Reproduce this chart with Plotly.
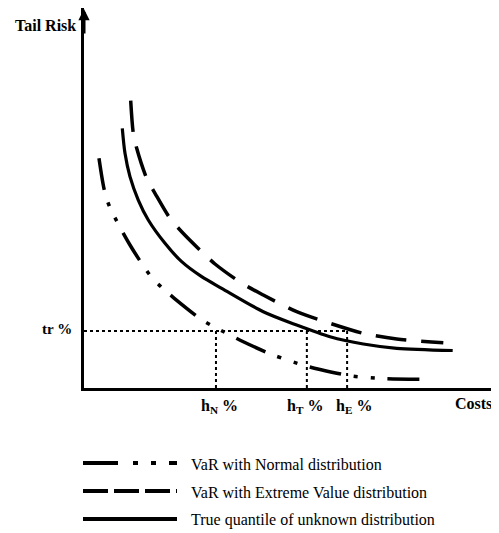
import plotly.graph_objects as go

# The page body has an 8px margin, so the figure is drawn 8px smaller
W, H = 491, 525
OFF = 8

# Curve data (Costs on x, Tail Risk on y)
true_x = [9.23, 9.88, 11.08, 13.08, 15.49, 19.52, 23.54, 28.36, 33.18, 43.20,
          51.25, 59.28, 67.30, 75.35, 88.84]
true_y = [68.34, 61.76, 55.61, 49.47, 44.21, 38.08, 33.24, 29.29, 26.24, 20.08,
          16.58, 13.5, 11.58, 10.45, 9.87]

ev_x = [11.25, 11.88, 12.70, 15.11, 17.11, 20.72, 23.54, 28.75, 31.57, 37.83,
        43.20, 51.25, 59.28, 67.30, 75.35, 86.58]
ev_y = [75.61, 67.03, 63.08, 55.18, 51.24, 44.66, 41.13, 35.45, 32.63, 27.71,
        24.47, 20.08, 17.03, 14.39, 12.89, 11.92]

norm_x = [3.61, 4.89, 6.10, 11.08, 16.07, 18.96, 21.76, 28.12, 31.33, 38.39,
          45.61, 53.25, 56.87, 64.51, 72.53, 82.96]
norm_y = [60.45, 52.11, 47.89, 37.63, 29.47, 26.24, 23.61, 18.16, 16.13, 12.18,
          8.68, 5.87, 4.87, 3.16, 2.45, 2.29]

tr_level = 15.0
h_N, h_T, h_E = 31.8, 53.7, 63.4

legend_labels = ["VaR with Normal distribution",
                 "VaR with Extreme Value distribution",
                 "True quantile of unknown distribution"]

FONT = "'Liberation Serif', 'Times New Roman', Times, serif"
NORM_DASH = "32px,13px,4px,13px,4px,13px"
EV_DASH = "31px,15px"

fig = go.Figure()

# guide lines
fig.add_trace(go.Scatter(x=[0, h_E], y=[tr_level, tr_level], mode="lines",
                         line=dict(color="black", width=2, dash="dot")))
for h in (h_N, h_T, h_E):
    fig.add_trace(go.Scatter(x=[h, h], y=[0, tr_level], mode="lines",
                             line=dict(color="black", width=2, dash="dot")))

fig.add_trace(go.Scatter(x=norm_x, y=norm_y, mode="lines", line_shape="spline",
                         line=dict(color="black", width=3.5, dash=NORM_DASH,
                                   smoothing=0.8)))
fig.add_trace(go.Scatter(x=ev_x, y=ev_y, mode="lines", line_shape="spline",
                         line=dict(color="black", width=3.5, dash=EV_DASH,
                                   smoothing=0.8)))
fig.add_trace(go.Scatter(x=true_x, y=true_y, mode="lines", line_shape="spline",
                         line=dict(color="black", width=3.2, smoothing=0.8)))


def px(x):
    return (x - OFF) / W


def py(y):
    return 1 - (y - OFF) / H


x_dom = [px(84), 1]
y_dom = [py(388), py(8)]

annotations = [
    dict(text="<b>Tail Risk</b>", x=px(78), y=py(25), xref="paper", yref="paper",
         xanchor="right", yanchor="middle", showarrow=False, font=dict(size=16)),
    dict(text="<b>tr %</b>", x=px(74), y=py(329), xref="paper", yref="paper",
         xanchor="right", yanchor="middle", showarrow=False, font=dict(size=15)),
    dict(text="<b>Costs</b>", x=px(494), y=py(403), xref="paper", yref="paper",
         xanchor="right", yanchor="middle", showarrow=False, font=dict(size=16)),
    dict(text="<b>h<sub>N</sub> %</b>", x=px(219), y=py(406), xref="paper", yref="paper",
         xanchor="center", yanchor="middle", showarrow=False, font=dict(size=16)),
    dict(text="<b>h<sub>T</sub> %</b>", x=px(305), y=py(406), xref="paper", yref="paper",
         xanchor="center", yanchor="middle", showarrow=False, font=dict(size=16)),
    dict(text="<b>h<sub>E</sub> %</b>", x=px(354), y=py(406), xref="paper", yref="paper",
         xanchor="center", yanchor="middle", showarrow=False, font=dict(size=16)),
    # axis arrow
    dict(text="", x=px(84), y=py(5), xref="paper", yref="paper",
         ax=0, ay=30, showarrow=True, arrowhead=2, arrowsize=0.75, arrowwidth=3,
         arrowcolor="black"),
]

shapes = []
leg_y = [463, 491, 519]
leg_dash = ["35px,15px,5px,13px,5px,13px", "25px,6px", "solid"]
for ly, d, lab in zip(leg_y, leg_dash, legend_labels):
    shapes.append(dict(type="line", xref="paper", yref="paper",
                       x0=px(83), x1=px(177), y0=py(ly), y1=py(ly),
                       line=dict(color="black", width=4, dash=d)))
    annotations.append(dict(text=lab, x=px(189), y=py(ly + 1), xref="paper",
                            yref="paper", xanchor="left", yanchor="middle",
                            showarrow=False, font=dict(size=16)))

fig.update_layout(
    width=W, height=H,
    margin=dict(l=0, r=0, t=0, b=0),
    paper_bgcolor="white", plot_bgcolor="white",
    showlegend=False,
    font=dict(family=FONT, color="black"),
    xaxis=dict(domain=x_dom, range=[0, 100], showline=True, linewidth=3,
               linecolor="black", showgrid=False, zeroline=False,
               showticklabels=False, ticks=""),
    yaxis=dict(domain=y_dom, range=[0, 100], showline=True, linewidth=3,
               linecolor="black", showgrid=False, zeroline=False,
               showticklabels=False, ticks=""),
    annotations=annotations, shapes=shapes,
    hovermode=False,
)

fig.write_html("out.html")
